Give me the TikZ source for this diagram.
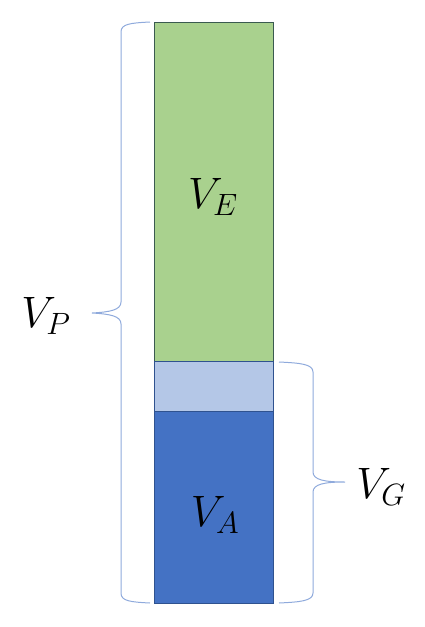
\RequirePackage{fix-cm}
\documentclass[tikz,border=0pt]{standalone}
\usepackage{amsmath}
\definecolor{verdeE}{HTML}{A9D18E}
\definecolor{celesteG}{HTML}{B4C7E7}
\definecolor{azulA}{HTML}{4472C4}
\definecolor{bordeE}{HTML}{3A5A50}
\definecolor{bordeA}{HTML}{2F528F}
\definecolor{llave}{HTML}{8FAADC}
\tikzset{
tramo/.style={draw,line width=0.8pt},
llaveVol/.style={llave,line width=1pt},
etiqueta/.style={font=\fontsize{44}{48}\selectfont,inner sep=0pt}
}
\begin{document}
\begin{tikzpicture}[x=1pt,y=-1pt]
    \useasboundingbox (0,0) rectangle (424,627);
    \coordinate (T) at (154,22);
    \coordinate (M1) at (273,361);
    \coordinate (M2) at (154,361);
    \coordinate (M3) at (273,411);
    \coordinate (M4) at (154,411);
    \coordinate (B) at (273,603);

    \draw[tramo,fill=verdeE,draw=bordeE] (T) rectangle (M1);
    \draw[tramo,fill=celesteG,draw=bordeA] (M2) rectangle (M3);
    \draw[tramo,fill=azulA,draw=bordeA] (M4) rectangle (B);

    % llaves
    \draw[llaveVol] (150,22) .. controls (130,23) and (121,24) .. (121,32) -- (121,302)
        .. controls (121,310) and (110,312) .. (92,313)
        .. controls (110,314) and (121,316) .. (121,324) -- (121,593)
        .. controls (121,601) and (130,602) .. (150,603);
    \draw[llaveVol] (279,362) .. controls (300,363) and (313,364) .. (313,372) -- (313,472)
        .. controls (313,480) and (325,482) .. (345,482)
        .. controls (325,482) and (313,484) .. (313,492) -- (313,593)
        .. controls (313,601) and (300,602) .. (279,603);

    \node[etiqueta] (VE) at (213,197) {$V_E$};
    \node[etiqueta] (VA) at (215,515) {$V_A$};
    \node[etiqueta] (VP) at (46,316) {$V_P$};
    \node[etiqueta] (VG) at (381,487) {$V_G$};
\end{tikzpicture}
\end{document}
